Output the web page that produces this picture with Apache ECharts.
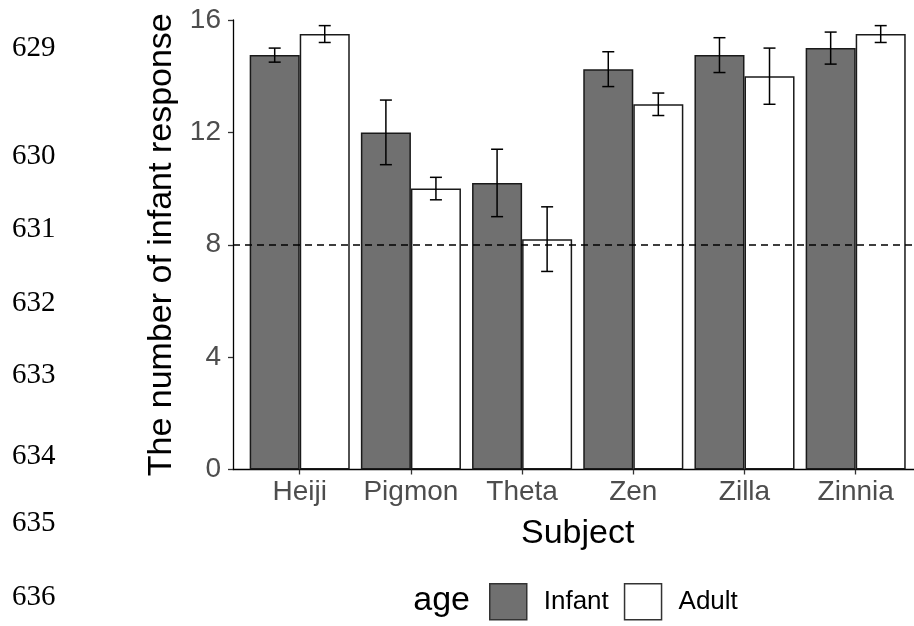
<!DOCTYPE html>
<html>
<head>
<meta charset="utf-8">
<script src="https://cdn.jsdelivr.net/npm/echarts@6/dist/echarts.min.js"></script>
<style>
  html, body { margin: 0; padding: 0; background: #ffffff; }
  #chart { width: 914px; height: 626px; }
</style>
</head>
<body>
<div id="chart"></div>
<script>
// Subjects on the x axis
const subjects = ['Heiji', 'Pigmon', 'Theta', 'Zen', 'Zilla', 'Zinnia'];

// Mean number of infant responses and standard errors, per age group
const infantMean = [14.75, 12.0, 10.2, 14.25, 14.75, 15.0];
const infantErr  = [0.25, 1.15, 1.2, 0.62, 0.62, 0.57];
const adultMean  = [15.5, 10.0, 8.2, 13.0, 14.0, 15.5];
const adultErr   = [0.3, 0.4, 1.15, 0.4, 1.0, 0.3];

// Y tick labels and chance-level reference
const yTicks = [0, 4, 8, 12, 16];
const chanceLevel = 8;

// Manuscript line numbers in the margin
const lineNumbers = ['629', '630', '631', '632', '633', '634', '635', '636'];
const lineNumberY = [48, 156, 229, 303, 375, 456, 523, 597];

const positions = subjects.map((_, i) => i + 1);
const dodge = 0.225; // half of a dodged bar, in category units

const infantBars = infantMean.map((v, i) => [positions[i], v]);
const adultBars  = adultMean.map((v, i) => [positions[i], v]);
const infantRange = infantMean.map((v, i) => [positions[i], v - infantErr[i], v + infantErr[i]]);
const adultRange  = adultMean.map((v, i) => [positions[i], v - adultErr[i], v + adultErr[i]]);

function errorBars(shift) {
  return function (params, api) {
    const x = api.value(0) + shift;
    const lo = api.coord([x, api.value(1)]);
    const hi = api.coord([x, api.value(2)]);
    const half = 6;
    const style = { stroke: '#000000', lineWidth: 1.5 };
    return {
      type: 'group',
      children: [
        { type: 'line', shape: { x1: hi[0], y1: hi[1], x2: lo[0], y2: lo[1] }, style: style },
        { type: 'line', shape: { x1: hi[0] - half, y1: hi[1], x2: hi[0] + half, y2: hi[1] }, style: style },
        { type: 'line', shape: { x1: lo[0] - half, y1: lo[1], x2: lo[0] + half, y2: lo[1] }, style: style }
      ]
    };
  };
}

const chart = echarts.init(document.getElementById('chart'), null, { renderer: 'canvas' });

const sansFont = 'Liberation Sans, Arial, sans-serif';

chart.setOption({
  animation: false,
  backgroundColor: '#ffffff',
  textStyle: { fontFamily: sansFont },
  grid: {
    left: 233,
    top: 20,
    width: 689.4,
    height: 449.5,
    containLabel: false,
    outerBoundsMode: 'none'
  },
  xAxis: {
    type: 'value',
    min: 0.4,
    max: 6.6,
    splitLine: { show: false },
    axisLine: { show: true, onZero: false, lineStyle: { color: '#000000', width: 1.3 } },
    axisTick: { show: true, customValues: positions, length: 5, lineStyle: { color: '#333333', width: 1.3 } },
    axisLabel: {
      customValues: positions,
      formatter: v => subjects[Math.round(v) - 1],
      fontSize: 28,
      color: '#4d4d4d',
      margin: 9,
      fontFamily: sansFont
    },
    name: 'Subject',
    nameLocation: 'middle',
    nameGap: 47,
    nameTextStyle: { fontSize: 34, color: '#000000', fontFamily: sansFont }
  },
  yAxis: {
    type: 'value',
    min: yTicks[0],
    max: yTicks[yTicks.length - 1],
    interval: 4,
    splitLine: { show: false },
    axisLine: { show: true, lineStyle: { color: '#000000', width: 1.3 } },
    axisTick: { show: true, length: 5, lineStyle: { color: '#333333', width: 1.3 } },
    axisLabel: { fontSize: 28, color: '#4d4d4d', margin: 12, padding: [3, 0, 0, 0], fontFamily: sansFont },
    name: 'The number of infant response',
    nameLocation: 'middle',
    nameGap: 45,
    nameTextStyle: { fontSize: 34, color: '#000000', fontFamily: sansFont }
  },
  legend: {
    data: [
      { name: 'Infant', icon: 'rect', itemStyle: { color: '#707070', borderColor: '#333333', borderWidth: 1.5 } },
      { name: 'Adult', icon: 'rect', itemStyle: { color: '#ffffff', borderColor: '#333333', borderWidth: 1.5 } }
    ],
    left: 489,
    top: 583,
    padding: 0,
    itemWidth: 37,
    itemHeight: 36,
    itemGap: 15,
    selectedMode: false,
    textStyle: { fontSize: 26, color: '#000000', fontFamily: sansFont, padding: [0, 0, 0, 12] }
  },
  graphic: [
    {
      type: 'text',
      style: {
        x: 470, y: 601, text: 'age',
        font: '34px ' + sansFont,
        fill: '#000000', align: 'right', verticalAlign: 'middle'
      }
    }
  ].concat(lineNumbers.map((t, i) => ({
    type: 'text',
    style: {
      x: 12, y: lineNumberY[i], text: t,
      font: '29px Liberation Serif, Times New Roman, serif',
      fill: '#000000', align: 'left', verticalAlign: 'middle'
    }
  }))),
  series: [
    {
      name: 'Infant',
      type: 'bar',
      data: infantBars,
      barGap: '0%',
      barCategoryGap: '10%',
      itemStyle: { color: '#707070', borderColor: '#1a1a1a', borderWidth: 1.5 },
      markLine: {
        silent: true,
        symbol: 'none',
        label: { show: false },
        lineStyle: { color: '#000000', type: [7, 5], width: 1.5 },
        data: [{ yAxis: chanceLevel }]
      }
    },
    {
      name: 'Adult',
      type: 'bar',
      data: adultBars,
      barGap: '0%',
      barCategoryGap: '10%',
      itemStyle: { color: '#ffffff', borderColor: '#1a1a1a', borderWidth: 1.5 }
    },
    {
      name: 'Infant SE',
      type: 'custom',
      renderItem: errorBars(-dodge),
      data: infantRange,
      encode: { x: 0, y: [1, 2] },
      z: 5
    },
    {
      name: 'Adult SE',
      type: 'custom',
      renderItem: errorBars(dodge),
      data: adultRange,
      encode: { x: 0, y: [1, 2] },
      z: 5
    }
  ]
});
</script>
</body>
</html>
